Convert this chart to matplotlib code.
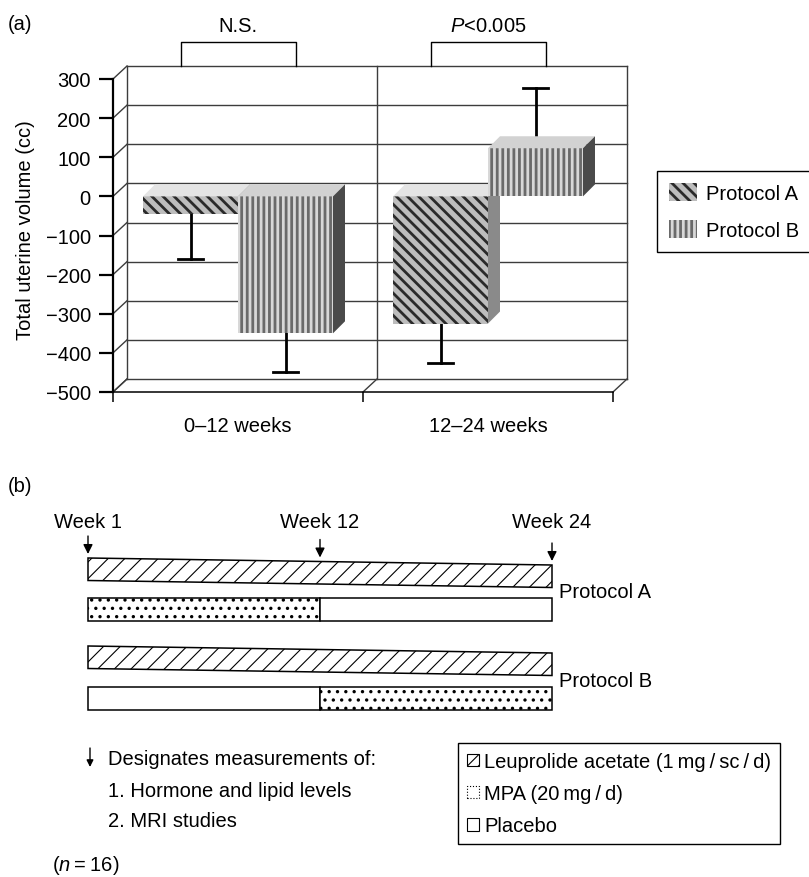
import matplotlib
matplotlib.use('Agg')
import matplotlib.pyplot as plt
from matplotlib.patches import Polygon, Rectangle, Patch, FancyArrowPatch

W, H = 809, 878

plt.rcParams['font.family'] = ['Liberation Sans', 'DejaVu Sans']
plt.rcParams['font.size'] = 14.5
plt.rcParams['mathtext.fontset'] = 'custom'
plt.rcParams['mathtext.rm'] = 'Liberation Sans'
plt.rcParams['mathtext.it'] = 'Liberation Sans:italic'

# ---- panel (a) data ----
periods = ['0–12 weeks', '12–24 weeks']
protocols = ['Protocol A', 'Protocol B']
change_a = [-45, -325]        # mean change in uterine volume (cc)
change_b = [-350, 123]
err_a = [115, 100]
err_b = [100, 155]
significance = ['N.S.', '$P$<0.005']
y_ticks = [300, 200, 100, 0, -100, -200, -300, -400, -500]

# ---- panel (b) data ----
week_marks = [0, 12, 24]
week_labels = ['Week 1', 'Week 12', 'Week 24']
leuprolide_span = [0, 24]
schedule_a = [('MPA', 0, 12), ('Placebo', 12, 24)]
schedule_b = [('Placebo', 0, 12), ('MPA', 12, 24)]
notes = ['Designates measurements of:', '1. Hormone and lipid levels', '2. MRI studies']
treatments = ['Leuprolide acetate (1\u2009mg\u2009/\u2009sc\u2009/\u2009d)', 'MPA (20\u2009mg\u2009/\u2009d)', 'Placebo']


def fx(x):
    return x / W


def fy(y):
    return 1 - y / H


def px_to_data(ax, dx, dy):
    '''convert a pixel offset into data units of ax'''
    inv = ax.transData.inverted()
    x0, y0 = inv.transform((0, 0))
    x1, y1 = inv.transform((dx, dy))
    return x1 - x0, y1 - y0


fig = plt.figure(figsize=(W / 100, H / 100), dpi=100)

# ================= panel (a) =================
ax = fig.add_axes([fx(113), fy(393), 500 / W, 313 / H])
ax.set_xlim(0, 2)
ax.set_ylim(-500, 300)
ax.patch.set_visible(False)

wdx, wdy = px_to_data(ax, 14, 13)   # wall depth
bdx, bdy = px_to_data(ax, 12, 12)   # bar depth
ymin, ymax = y_ticks[-1], y_ticks[0]

grid_kw = dict(color='#3c3c3c', lw=1.0, clip_on=False, zorder=1)
for v in y_ticks:
    ax.plot([wdx, 2 + wdx], [v + wdy, v + wdy], **grid_kw)
    ax.plot([0, wdx], [v, v + wdy], **grid_kw)
for x in [0, 1, 2]:
    ax.plot([x + wdx, x + wdx], [ymin + wdy, ymax + wdy], **grid_kw)
    ax.plot([x, x + wdx], [ymin, ymin + wdy], **grid_kw)

for s in ['top', 'right']:
    ax.spines[s].set_visible(False)
ax.spines['left'].set_linewidth(1.6)
ax.spines['bottom'].set_linewidth(1.1)

ax.set_yticks(y_ticks)
ax.tick_params(axis='y', direction='out', length=10, width=1.6, pad=6)
ax.set_xticks([0, 1, 2])
ax.set_xticklabels([])
ax.tick_params(axis='x', which='major', direction='out', length=7, width=1.1)
ax.set_xticks([0.5, 1.5], minor=True)
ax.set_xticklabels(periods, minor=True)
ax.tick_params(axis='x', which='minor', length=0, pad=17)

ax.set_ylabel('Total uterine volume (cc)', va='center')
ax.yaxis.set_label_coords(-0.175, 0.52)

plt.rcParams['hatch.linewidth'] = 2.0
width = 0.38
styles = {
    'Protocol A': dict(face='#bdbdbd', hatch='\\\\\\', hcolor='#2a2a2a', top='#e4e4e4', side='#8a8a8a'),
    'Protocol B': dict(face='#d8d8d8', hatch='|||', hcolor='#6a6a6a', top='#d2d2d2', side='#4a4a4a'),
}


def draw_bar(xc, v, st, z):
    x0, x1 = xc - width / 2, xc + width / 2
    top, bot = max(v, 0), min(v, 0)
    ax.bar(xc, v, width=width, color=st['face'], edgecolor=st['hcolor'],
           hatch=st['hatch'], linewidth=0, zorder=z)
    ax.add_patch(Polygon([(x0, top), (x1, top), (x1 + bdx, top + bdy), (x0 + bdx, top + bdy)],
                         closed=True, facecolor=st['top'], lw=0, zorder=z, clip_on=False))
    ax.add_patch(Polygon([(x1, top), (x1, bot), (x1 + bdx, bot + bdy), (x1 + bdx, top + bdy)],
                         closed=True, facecolor=st['side'], lw=0, zorder=z, clip_on=False))


cap = 0.05
z = 3
for i in range(len(periods)):
    for off, vals, errs, name in [(0.31, change_a, err_a, 'Protocol A'),
                                  (0.69, change_b, err_b, 'Protocol B')]:
        xc = i + off
        v = vals[i]
        end = v - errs[i] if v < 0 else v + errs[i]
        ax.plot([xc, xc], [v, end], color='black', lw=2.0, zorder=2, clip_on=False)
        ax.plot([xc - cap, xc + cap], [end, end], color='black', lw=2.0, zorder=2, clip_on=False)
        draw_bar(xc, v, styles[name], z)
        z += 1

# significance boxes above the back wall
_, box_h = px_to_data(ax, 0, 24)
_, txt_gap = px_to_data(ax, 0, 16)
wall_top = ymax + wdy
for i, lab in enumerate(significance):
    xl, xr = i + 0.5 - 0.23, i + 0.5 + 0.23
    ax.plot([xl, xl, xr, xr], [wall_top, wall_top + box_h, wall_top + box_h, wall_top],
            color='black', lw=1.0, clip_on=False)
    ax.text(i + 0.5, wall_top + box_h + txt_gap, lab, ha='center', va='center')

handles = [Patch(facecolor=styles[p]['face'], edgecolor=styles[p]['hcolor'],
                 hatch=styles[p]['hatch'], linewidth=0, label=p) for p in protocols]
leg = fig.legend(handles=handles, loc='upper left', bbox_to_anchor=(fx(657), fy(172)),
                 frameon=True, fancybox=False, edgecolor='black', framealpha=1,
                 borderpad=0.6, borderaxespad=0, handlelength=1.4, handleheight=1.0,
                 handletextpad=0.45, labelspacing=0.85)
leg.get_frame().set_linewidth(1.0)

fig.text(fx(8), fy(25), '(a)', ha='left', va='center')

# ================= panel (b) =================
plt.rcParams['hatch.linewidth'] = 0.8
axb = fig.add_axes([fx(88), fy(720), 464 / W, 220 / H])
axb.set_xlim(0, 24)
axb.set_ylim(720, 500)
axb.axis('off')

band_h, slant, row_h = 22.5, 7, 23
rows = [('Protocol A', 559, 599, schedule_a), ('Protocol B', 647, 688, schedule_b)]
for name, band_top, row_top, sched in rows:
    l0, l1 = leuprolide_span
    plt.rcParams['hatch.linewidth'] = 0.8
    axb.add_patch(Polygon([(l0, band_top), (l1, band_top + slant),
                           (l1, band_top + slant + band_h), (l0, band_top + band_h)],
                          closed=True, facecolor='white', edgecolor='black', hatch='//',
                          lw=1.1, clip_on=False))
    plt.rcParams['hatch.linewidth'] = 1.2
    for drug, s, e in sched:
        axb.add_patch(Rectangle((s, row_top), e - s, row_h, facecolor='white', edgecolor='black',
                                hatch='..' if drug == 'MPA' else None, lw=1.1, clip_on=False))
    axb.text(24.36, row_top - 6, name, ha='left', va='center')
plt.rcParams['hatch.linewidth'] = 0.8

for w, lab in zip(week_marks, week_labels):
    tip = rows[0][1] + slant * w / 24 - 4
    axb.annotate('', xy=(w, tip), xytext=(w, tip - 18),
                 arrowprops=dict(arrowstyle='-|>', color='black', lw=1.0,
                                 mutation_scale=14, shrinkA=0, shrinkB=0),
                 annotation_clip=False)
    axb.text(w, 523, lab, ha='center', va='center')

fig.text(fx(8), fy(487), '(b)', ha='left', va='center')

# notes
fig.patches.append(FancyArrowPatch(
    (fx(90), fy(749)), (fx(90), fy(768)), transform=fig.transFigure,
    arrowstyle='-|>', mutation_scale=10, color='black', lw=1.0,
    shrinkA=0, shrinkB=0))
for k, line in enumerate(notes):
    fig.text(fx(108), fy([760, 792, 822][k]), line, ha='left', va='center')
fig.text(fx(52), fy(866), '($n$\u2009=\u200916)', ha='left', va='center')

tr_handles = [
    Patch(facecolor='white', edgecolor='black', hatch='///', lw=0.8, label=treatments[0]),
    Patch(facecolor='white', edgecolor='black', hatch='.', lw=0.8, linestyle=':', label=treatments[1]),
    Patch(facecolor='white', edgecolor='black', lw=0.8, label=treatments[2]),
]
leg_b = fig.legend(handles=tr_handles, loc='upper left', bbox_to_anchor=(fx(458), fy(744)),
                   frameon=True, fancybox=False, edgecolor='black', framealpha=1,
                   borderpad=0.45, borderaxespad=0, handlelength=0.6, handleheight=0.6,
                   handletextpad=0.25, labelspacing=0.65)
leg_b.get_frame().set_linewidth(1.0)

fig.savefig('out.png', dpi=100)
